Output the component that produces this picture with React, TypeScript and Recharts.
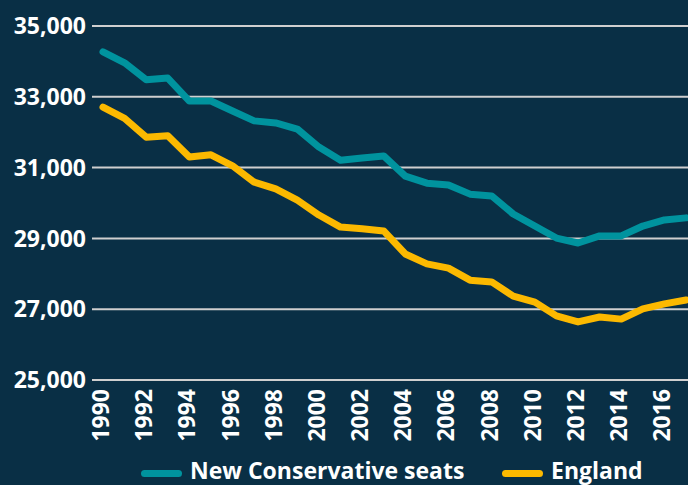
import React from "react";
import { LineChart, Line, XAxis, YAxis, CartesianGrid } from "recharts";

const years = [1990,1991,1992,1993,1994,1995,1996,1997,1998,1999,2000,2001,2002,2003,2004,2005,2006,2007,2008,2009,2010,2011,2012,2013,2014,2015,2016,2017];
const newConservativeSeats = [34270,33960,33480,33530,32880,32880,32600,32320,32260,32090,31580,31210,31270,31330,30760,30560,30510,30250,30200,29690,29350,29010,28870,29070,29070,29350,29520,29580];
const england = [32710,32390,31860,31900,31300,31360,31050,30590,30400,30080,29660,29320,29270,29210,28560,28280,28160,27820,27770,27370,27200,26810,26640,26780,26720,27010,27150,27260];
const xTicks = [1990,1992,1994,1996,1998,2000,2002,2004,2006,2008,2010,2012,2014,2016];
const yTicks = [25000,27000,29000,31000,33000,35000];
const seriesNames = ["New Conservative seats", "England"];
const seriesColors = ["#00939e", "#fcb900"];

const data = years.map((y, i) => ({ year: y, ncs: newConservativeSeats[i], eng: england[i] }));

const FONT = "'Open Sans', 'Noto Sans', sans-serif";
const BG = "#092f45";

const XTick = (props: any) => {
  const { x, y, payload } = props;
  return (
    <text
      transform={`translate(${x - 3},${y}) rotate(-90)`}
      textAnchor="end"
      dominantBaseline="central"
      fill="#ffffff"
      fontFamily={FONT}
      fontWeight={700}
      fontSize={23}
    >
      {payload.value}
    </text>
  );
};

export default function App() {
  return (
    <div style={{ position: "absolute", left: 0, top: 0, width: 688, height: 485, overflow: "hidden", background: BG, fontFamily: FONT }}>
      <LineChart width={700} height={485} data={data} margin={{ top: 26, right: 3, left: 0, bottom: 0 }}>
        <CartesianGrid vertical={false} stroke="#cfcfcf" strokeWidth={2} />
        <XAxis
          dataKey="year"
          type="number"
          domain={[1990, 2017]}
          ticks={xTicks}
          padding={{ left: 11, right: 11 }}
          axisLine={false}
          tickLine={false}
          tickSize={0}
          tickMargin={9}
          height={105}
          interval={0}
          tick={<XTick />}
        />
        <YAxis
          domain={[25000, 35000]}
          ticks={yTicks}
          width={92}
          axisLine={false}
          tickLine={false}
          tickSize={0}
          tickMargin={6}
          interval={0}
          tickFormatter={(v: number) => v.toLocaleString("en-US")}
          tick={{ fill: "#ffffff", fontFamily: FONT, fontWeight: 700, fontSize: 23 }}
        />
        <Line dataKey="ncs" name={seriesNames[0]} stroke={seriesColors[0]} strokeWidth={7} dot={false} strokeLinecap="round" strokeLinejoin="round" isAnimationActive={false} />
        <Line dataKey="eng" name={seriesNames[1]} stroke={seriesColors[1]} strokeWidth={7} dot={false} strokeLinecap="round" strokeLinejoin="round" isAnimationActive={false} />
      </LineChart>
      {[0, 1].map((i) => {
        const left = i === 0 ? 141 : 502;
        return (
          <React.Fragment key={i}>
            <div style={{ position: "absolute", left, top: 470, width: 41, height: 7, borderRadius: 4, background: seriesColors[i] }} />
            <span style={{ position: "absolute", left: left + 49, top: 459, height: 23, lineHeight: "23px", color: "#ffffff", fontWeight: 700, fontSize: 23, fontFamily: FONT, whiteSpace: "nowrap" }}>{seriesNames[i]}</span>
          </React.Fragment>
        );
      })}
    </div>
  );
}
